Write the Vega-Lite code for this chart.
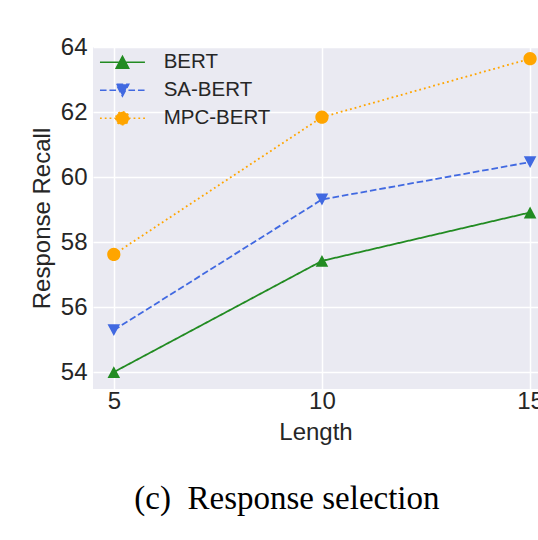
{
  "$schema": "https://vega.github.io/schema/vega-lite/v6.json",
  "width": 445,
  "height": 342,
  "autosize": {"type": "none"},
  "padding": {"left": 93, "top": 47, "right": 0, "bottom": 151},
  "background": "white",
  "title": {
    "text": "(c)\u2002Response selection",
    "orient": "bottom",
    "anchor": "middle",
    "frame": "bounds",
    "font": "Liberation Serif",
    "fontSize": 33,
    "fontWeight": "normal",
    "color": "black",
    "offset": 39,
    "dx": -4.5
  },
  "config": {
    "view": {"fill": "#eaeaf2", "stroke": null},
    "axis": {
      "grid": true,
      "gridColor": "white",
      "gridWidth": 1.5,
      "domain": false,
      "ticks": false,
      "labelFont": "Liberation Sans",
      "labelFontSize": 24,
      "labelColor": "#262626",
      "labelFlush": false,
      "titleFont": "Liberation Sans",
      "titleFontSize": 24,
      "titleFontWeight": "normal",
      "titleColor": "#262626"
    },
    "legend": {
      "orient": "none",
      "legendX": 19.2,
      "legendY": 5,
      "padding": 0,
      "symbolSize": 175,
      "symbolOffset": 0,
      "symbolStrokeWidth": 1.5,
      "labelOffset": 31,
      "labelFont": "Liberation Sans",
      "labelFontSize": 20.5,
      "labelColor": "#262626",
      "rowPadding": 7
    }
  },
  "data": {
    "values": [
      {"model": "BERT", "length": 5, "recall": 54.0},
      {"model": "BERT", "length": 10, "recall": 57.42},
      {"model": "BERT", "length": 15, "recall": 58.91},
      {"model": "SA-BERT", "length": 5, "recall": 55.29},
      {"model": "SA-BERT", "length": 10, "recall": 59.31},
      {"model": "SA-BERT", "length": 15, "recall": 60.46},
      {"model": "MPC-BERT", "length": 5, "recall": 57.62},
      {"model": "MPC-BERT", "length": 10, "recall": 61.84},
      {"model": "MPC-BERT", "length": 15, "recall": 63.64}
    ]
  },
  "encoding": {
    "x": {
      "field": "length",
      "type": "quantitative",
      "scale": {"domain": [4.5, 15.19], "nice": false, "zero": false},
      "axis": {"values": [5, 10, 15], "title": "Length", "labelPadding": 0, "titlePadding": 7}
    },
    "y": {
      "field": "recall",
      "type": "quantitative",
      "scale": {"domain": [53.48, 64.0], "nice": false, "zero": false},
      "axis": {"values": [54, 56, 58, 60, 62, 64], "title": "Response Recall", "labelPadding": 6, "titlePadding": 6}
    }
  },
  "layer": [
    {
      "mark": {"type": "line", "strokeWidth": 1.8, "strokeCap": "butt"},
      "encoding": {
        "stroke": {
          "field": "model",
          "type": "nominal",
          "scale": {"domain": ["BERT", "SA-BERT", "MPC-BERT"], "range": ["#228b22", "#4169e1", "#ffa500"]},
          "legend": {"title": null}
        },
        "strokeDash": {
          "field": "model",
          "type": "nominal",
          "scale": {"domain": ["BERT", "SA-BERT", "MPC-BERT"], "range": [[1, 0], [6.6, 2.9], [1.8, 3.0]]},
          "legend": {"title": null}
        }
      }
    },
    {
      "mark": {"type": "point", "filled": true, "size": 175, "opacity": 1},
      "encoding": {
        "fill": {
          "field": "model",
          "type": "nominal",
          "scale": {"domain": ["BERT", "SA-BERT", "MPC-BERT"], "range": ["#228b22", "#4169e1", "#ffa500"]},
          "legend": {"title": null}
        },
        "shape": {
          "field": "model",
          "type": "nominal",
          "scale": {
            "domain": ["BERT", "SA-BERT", "MPC-BERT"],
            "range": [
              "M-3.4,0H3.4M0,-0.9L0.95,0.9L-0.95,0.9Z",
              "M-3.4,0H3.4M0,0.9L0.95,-0.9L-0.95,-0.9Z",
              "M-3.4,0H3.4M-1,0A1,1,0,1,0,1,0A1,1,0,1,0,-1,0Z"
            ]
          },
          "legend": {"title": null}
        }
      }
    }
  ]
}
